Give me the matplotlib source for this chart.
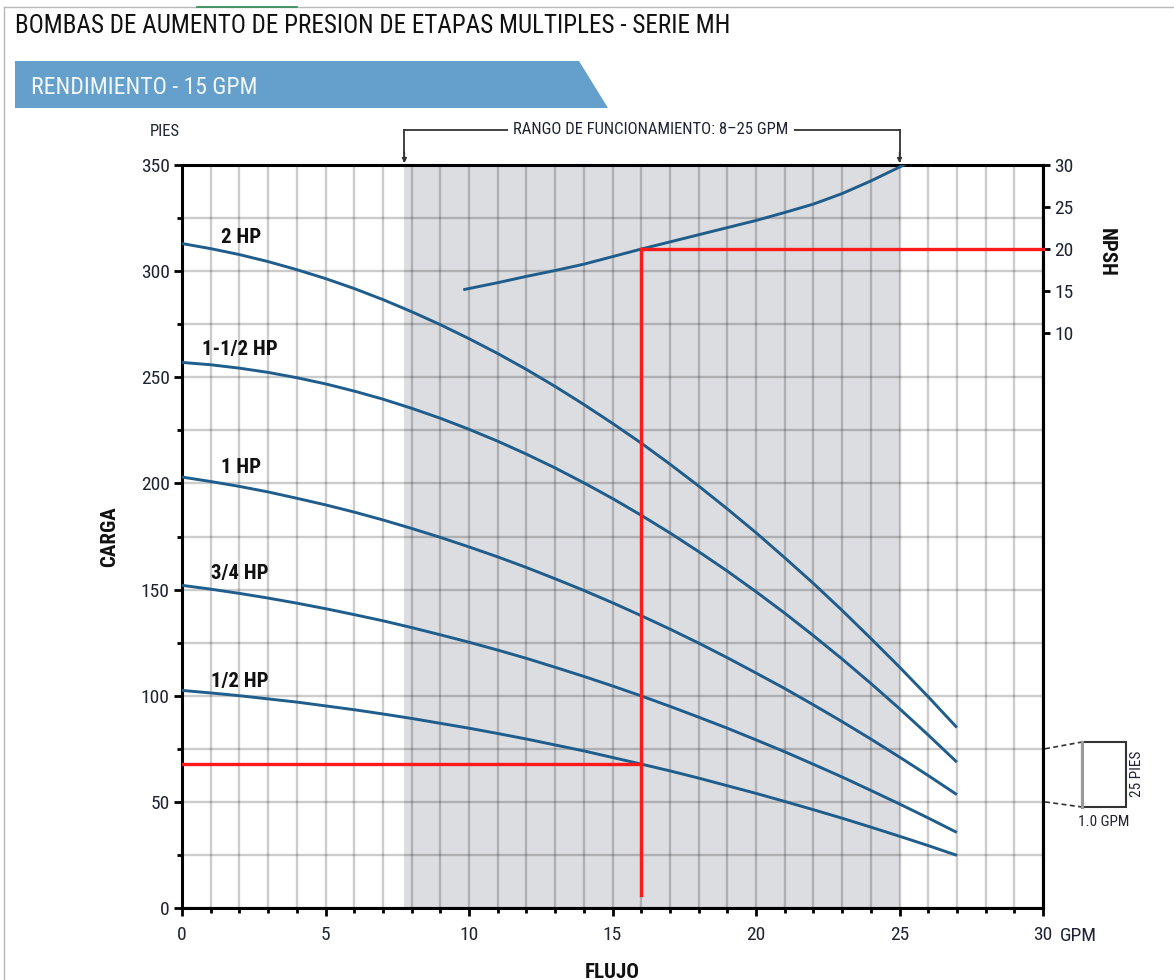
import matplotlib
matplotlib.use('Agg')
import matplotlib.pyplot as plt
from matplotlib import font_manager as fm
from matplotlib.patches import Polygon, Rectangle
from matplotlib.lines import Line2D
import matplotlib.transforms as mtransforms
import numpy as np

# ---------------- data ----------------
flow = list(range(0, 28))
head_2hp = [313.0, 310.6, 307.8, 304.5, 300.7, 296.5, 291.8, 286.6, 280.9, 274.8,
            268.2, 261.2, 253.7, 245.7, 237.2, 228.3, 219.0, 209.1, 198.8, 188.0,
            176.8, 165.0, 152.9, 140.2, 127.0, 113.5, 99.5, 85.0]
head_1_5hp = [257.0, 255.9, 254.3, 252.3, 249.8, 246.9, 243.5, 239.7, 235.4, 230.7,
              225.5, 219.9, 213.8, 207.3, 200.3, 192.9, 185.0, 176.7, 167.9, 158.7,
              149.0, 138.9, 128.3, 117.3, 105.8, 93.9, 81.5, 68.7]
head_1hp = [203.0, 200.9, 198.6, 196.0, 193.0, 189.9, 186.5, 182.8, 178.8, 174.6,
            170.1, 165.4, 160.4, 155.1, 149.6, 143.8, 137.7, 131.4, 124.8, 117.9,
            110.7, 103.4, 95.7, 87.8, 79.6, 71.1, 62.4, 53.4]
head_3_4hp = [152.0, 150.2, 148.2, 146.0, 143.6, 141.0, 138.2, 135.3, 132.1, 128.7,
              125.2, 121.5, 117.6, 113.4, 109.1, 104.6, 99.9, 95.0, 89.9, 84.7,
              79.2, 73.6, 67.7, 61.7, 55.4, 49.0, 42.4, 35.6]
head_1_2hp = [102.5, 101.3, 100.0, 98.5, 97.0, 95.2, 93.4, 91.4, 89.3, 87.0,
              84.7, 82.2, 79.6, 76.8, 74.0, 70.9, 67.8, 64.6, 61.2, 57.6,
              54.0, 50.2, 46.3, 42.3, 38.1, 33.8, 29.4, 24.8]
series_labels = ['2 HP', '1-1/2 HP', '1 HP', '3/4 HP', '1/2 HP']

npsh_flow = [9.85, 11, 12, 13, 14, 15, 16, 17, 18, 19, 20, 21, 22, 23, 24, 25.15]
npsh_val = [15.2, 16.0, 16.75, 17.45, 18.2, 19.1, 20.0, 20.85, 21.7, 22.55,
            23.4, 24.35, 25.35, 26.6, 28.1, 30.0]

op_flow = 16
op_head = 67.8
op_npsh = 20
op_bottom = 6
range_lo, range_hi = 7.75, 25

x_ticks = [0, 5, 10, 15, 20, 25, 30]
y_ticks = [0, 50, 100, 150, 200, 250, 300, 350]
npsh_ticks = [10, 15, 20, 25, 30]

# ---------------- fonts ----------------
names = {f.name for f in fm.fontManager.ttflist}
COND = next((n for n in ['Liberation Sans Narrow', 'DejaVu Sans Condensed',
                         'Roboto Condensed', 'Open Sans Condensed', 'Liberation Sans']
             if n in names), 'DejaVu Sans')
plt.rcParams['font.family'] = [COND, 'DejaVu Sans']
plt.rcParams['font.stretch'] = 'condensed'

W, H = 1174, 980
fig = plt.figure(figsize=(W / 100, H / 100), dpi=100)
fig.patch.set_facecolor('white')

def fx(px):
    return px / W

def fy(py):
    return 1 - py / H

ax = fig.add_axes([fx(182), fy(908), (1043 - 182) / W, (908 - 165) / H])
ax.set_xlim(0, 30)
ax.set_ylim(0, 350)

TXT = '#1e2433'
BLUE = '#1f5d8c'
RED = '#ff1a1a'

# shading + grid
ax.axvspan(range_lo, range_hi, color='#dcdde0', zorder=0.1, lw=0)
ax.set_xticks(x_ticks)
ax.set_xticks(range(0, 31), minor=True)
ax.set_yticks(y_ticks)
ax.set_yticks(range(0, 351, 25), minor=True)
ax.set_axisbelow(True)
ax.grid(which='both', color='k', alpha=0.2, lw=1.7)
ax.set_xticklabels([str(v) for v in x_ticks])
ax.set_yticklabels([str(v) for v in y_ticks])
ax.tick_params(which='major', direction='out', length=6, width=2, color='k',
               labelsize=14, labelcolor=TXT)
ax.tick_params(which='minor', direction='out', length=3.5, width=2, color='k')
ax.tick_params(axis='x', which='major', pad=7)
ax.tick_params(axis='y', which='major', pad=3)
for s in ax.spines.values():
    s.set_linewidth(2.2)
    s.set_color('k')

# curves
heads = [head_2hp, head_1_5hp, head_1hp, head_3_4hp, head_1_2hp]
for h in heads:
    ax.plot(flow, h, color=BLUE, lw=2.1, zorder=3, solid_capstyle='butt',
            solid_joinstyle='round')

label_pos = [(2.06, 316), (2.0, 263.3), (2.06, 207.7), (2.0, 157.8), (2.0, 106.9)]
for lab, (lx, ly) in zip(series_labels, label_pos):
    ax.text(lx, ly, lab, fontsize=15, fontweight='bold', color='#111111',
            ha='center', va='center', zorder=5)

# NPSH secondary axis
def ft2npsh(v):
    return (np.asarray(v) - 231.2) / 3.96

def npsh2ft(v):
    return 231.2 + 3.96 * np.asarray(v)

sec = ax.secondary_yaxis('right', functions=(ft2npsh, npsh2ft))
sec.set_yticks(npsh_ticks)
sec.set_yticklabels([str(v) for v in npsh_ticks])
sec.tick_params(direction='out', length=5, width=2, color='k', labelsize=14,
                labelcolor=TXT, pad=3)
sec.spines['right'].set_linewidth(2.2)

ax.plot(npsh_flow, npsh2ft(npsh_val), color=BLUE, lw=2.1, zorder=3,
        solid_joinstyle='round')

# operating point lines
ax.plot([op_flow, op_flow], [op_bottom, float(npsh2ft(op_npsh))], color=RED, lw=2.4, zorder=4)
ax.plot([op_flow, 30], [float(npsh2ft(op_npsh))] * 2, color=RED, lw=2.4, zorder=4, clip_on=False)
ax.plot([0, op_flow], [op_head, op_head], color=RED, lw=2.4, zorder=4)

# ---------------- figure decorations ----------------
fig.add_artist(Line2D([fx(4), fx(1174)], [fy(7), fy(7)], color='#b8b8b8', lw=1))
fig.add_artist(Line2D([fx(4), fx(4)], [fy(7), fy(980)], color='#b8b8b8', lw=1))
fig.add_artist(Line2D([fx(197), fx(297)], [fy(7), fy(7)], color='#2e8b57', lw=1.2))

title = fig.text(fx(15), fy(26), 'BOMBAS DE AUMENTO DE PRESION DE ETAPAS MULTIPLES - SERIE MH',
                 fontsize=24, color='#111111', ha='left', va='center')

banner = Polygon([(fx(15), fy(61)), (fx(579), fy(61)), (fx(608), fy(108)), (fx(15), fy(108))],
                 closed=True, facecolor='#64a0cb', edgecolor='none', transform=fig.transFigure)
fig.add_artist(banner)
btxt = fig.text(fx(31), fy(87), 'RENDIMIENTO - 15 GPM', fontsize=20, color='#f4f7fa',
                ha='left', va='center')

fig.text(fx(150), fy(131), 'PIES', fontsize=12, color=TXT, ha='left', va='center')
fig.text(fx(110), fy(537), 'CARGA', fontsize=15, fontweight='bold', color='#111111',
         rotation=90, ha='center', va='center')
fig.text(fx(612), fy(972), 'FLUJO', fontsize=15, fontweight='bold', color='#111111',
         ha='center', va='center')
fig.text(fx(1060), fy(936), 'GPM', fontsize=14, color=TXT, ha='left', va='center')
fig.text(fx(1106), fy(252), 'NPSH', fontsize=15, fontweight='bold', color='#111111',
         rotation=-90, ha='center', va='center')

# operating range bracket
blend = mtransforms.blended_transform_factory(ax.transData, fig.transFigure)
yb, ye = fy(130), fy(161)
for xv in (range_lo, range_hi):
    fig.add_artist(Line2D([xv, xv], [yb, ye], color='#333333', lw=1.3, transform=blend))
    ax.annotate('', xy=(xv, fy(163)), xycoords=blend, xytext=(xv, fy(152)), textcoords=blend,
                arrowprops=dict(arrowstyle='-|>', color='#333333', lw=1.0,
                                mutation_scale=7, shrinkA=0, shrinkB=0),
                annotation_clip=False)
fig.add_artist(Line2D([range_lo, range_hi], [yb, yb], color='#333333', lw=1.3, transform=blend))
fig.text(fx(651), fy(130), 'RANGO DE FUNCIONAMIENTO: 8\u201325 GPM', fontsize=12, color=TXT,
         ha='center', va='center',
         bbox=dict(boxstyle='square,pad=0.3', fc='white', ec='none'))

# scale key box
fig.add_artist(Line2D([fx(1045), fx(1082)], [fy(748.8), fy(742)], color='#333333', lw=1.2, ls=(0, (3, 2))))
fig.add_artist(Line2D([fx(1045), fx(1082)], [fy(801.9), fy(807)], color='#333333', lw=1.2, ls=(0, (3, 2))))
fig.add_artist(Rectangle((fx(1082), fy(807)), fx(1126) - fx(1082), fy(742) - fy(807),
                         transform=fig.transFigure, fc='white', ec='#333333', lw=1.5))
fig.add_artist(Line2D([fx(1082), fx(1082)], [fy(742), fy(807)], color='#999999', lw=2.2))
fig.text(fx(1104), fy(822), '1.0 GPM', fontsize=11, color=TXT, ha='center', va='center')
fig.text(fx(1137), fy(774), '25 PIES', fontsize=11, color=TXT, rotation=90,
         ha='center', va='center')

# fit widths of the header texts
fig.canvas.draw()
r = fig.canvas.get_renderer()
for t, target in ((title, 718), (btxt, 226)):
    w = t.get_window_extent(r).width
    t.set_fontsize(t.get_fontsize() * target / w)

fig.savefig('out.png', dpi=100, facecolor='white')
